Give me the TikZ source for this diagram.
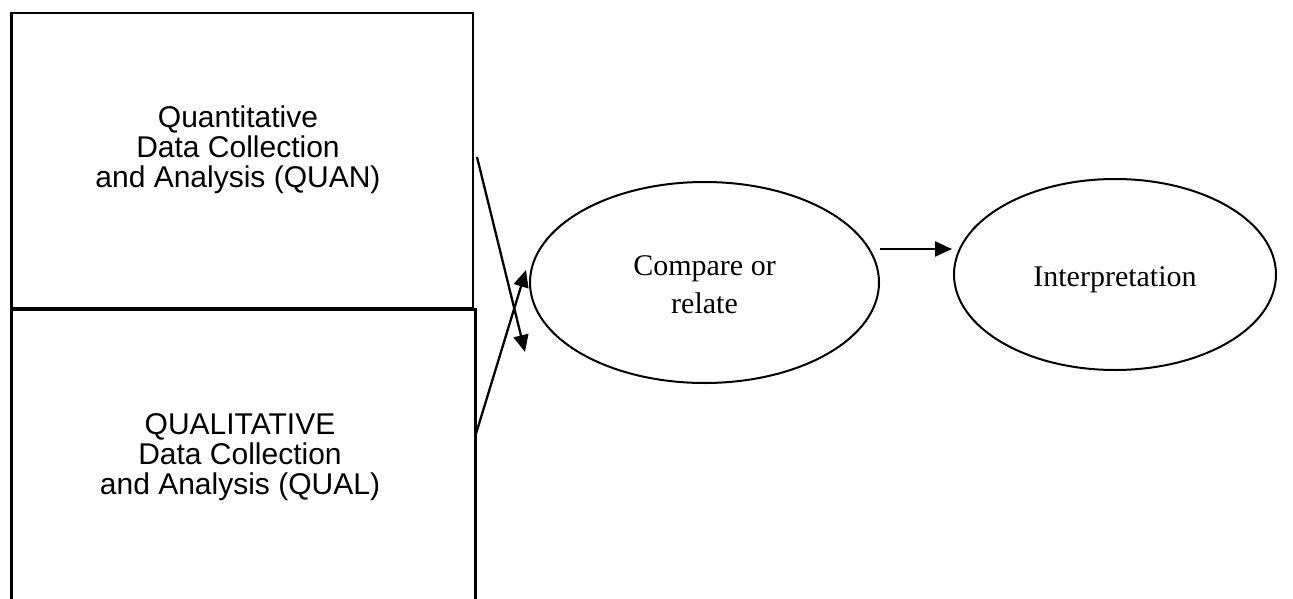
\documentclass[tikz,border=0pt]{standalone}
\usepackage{fontspec}
\setmainfont{Liberation Serif}
\newfontfamily\arialfont{Liberation Sans}
\usetikzlibrary{arrows.meta,shapes.geometric}

\begin{document}
\begin{tikzpicture}[x=1pt,y=-1pt,
  databox/.style={draw,line width=2.5pt,inner sep=0pt,anchor=north west},
  boxtext/.style={font=\arialfont\fontsize{30}{30}\selectfont,align=center,inner sep=0pt},
  stage/.style={draw,ellipse,line width=2pt,inner sep=0pt},
  stagetext/.style={font=\fontsize{30}{38}\selectfont,align=center,inner sep=0pt},
  flow/.style={line width=2.3pt,-{Triangle[length=17pt,width=15pt]}}]
  \useasboundingbox (0,0) rectangle (1293,599);
  \clip (0,0) rectangle (1293,599);

  % the two data strands
  \node[databox,minimum width=461.5pt,minimum height=295pt] (quanbox) at (10,12) {};
  \node[databox,minimum width=464pt,minimum height=400pt] (qualbox) at (10,308) {};
  \node[boxtext] (quantext) at (238,150)
    {Quantitative\\Data Collection\\and Analysis (QUAN)};
  \node[boxtext] (qualtext) at (240,457)
    {QUALITATIVE\\Data Collection\\and Analysis (QUAL)};

  % merging and interpretation
  \node[stage,minimum width=349pt,minimum height=201pt] (compare) at (704.5,282.5) {};
  \node[stagetext] (comparetext) at (704.5,285) {Compare or\\relate};
  \node[stage,minimum width=322pt,minimum height=191pt] (interp) at (1115,274.5) {};
  \node[stagetext] (interptext) at (1115,280) {Interpretation};

  % connector end points
  \coordinate (quanout) at (477,157);
  \coordinate (quanin) at (525,352);
  \coordinate (qualout) at (475,437);
  \coordinate (qualin) at (526,270);
  \coordinate (cmpout) at (880,249);
  \coordinate (interpin) at (952,249);

  \draw[flow] (quanout) -- (quanin);
  \draw[flow] (qualout) -- (qualin);
  \draw[flow] (cmpout) -- (interpin);
\end{tikzpicture}
\end{document}
